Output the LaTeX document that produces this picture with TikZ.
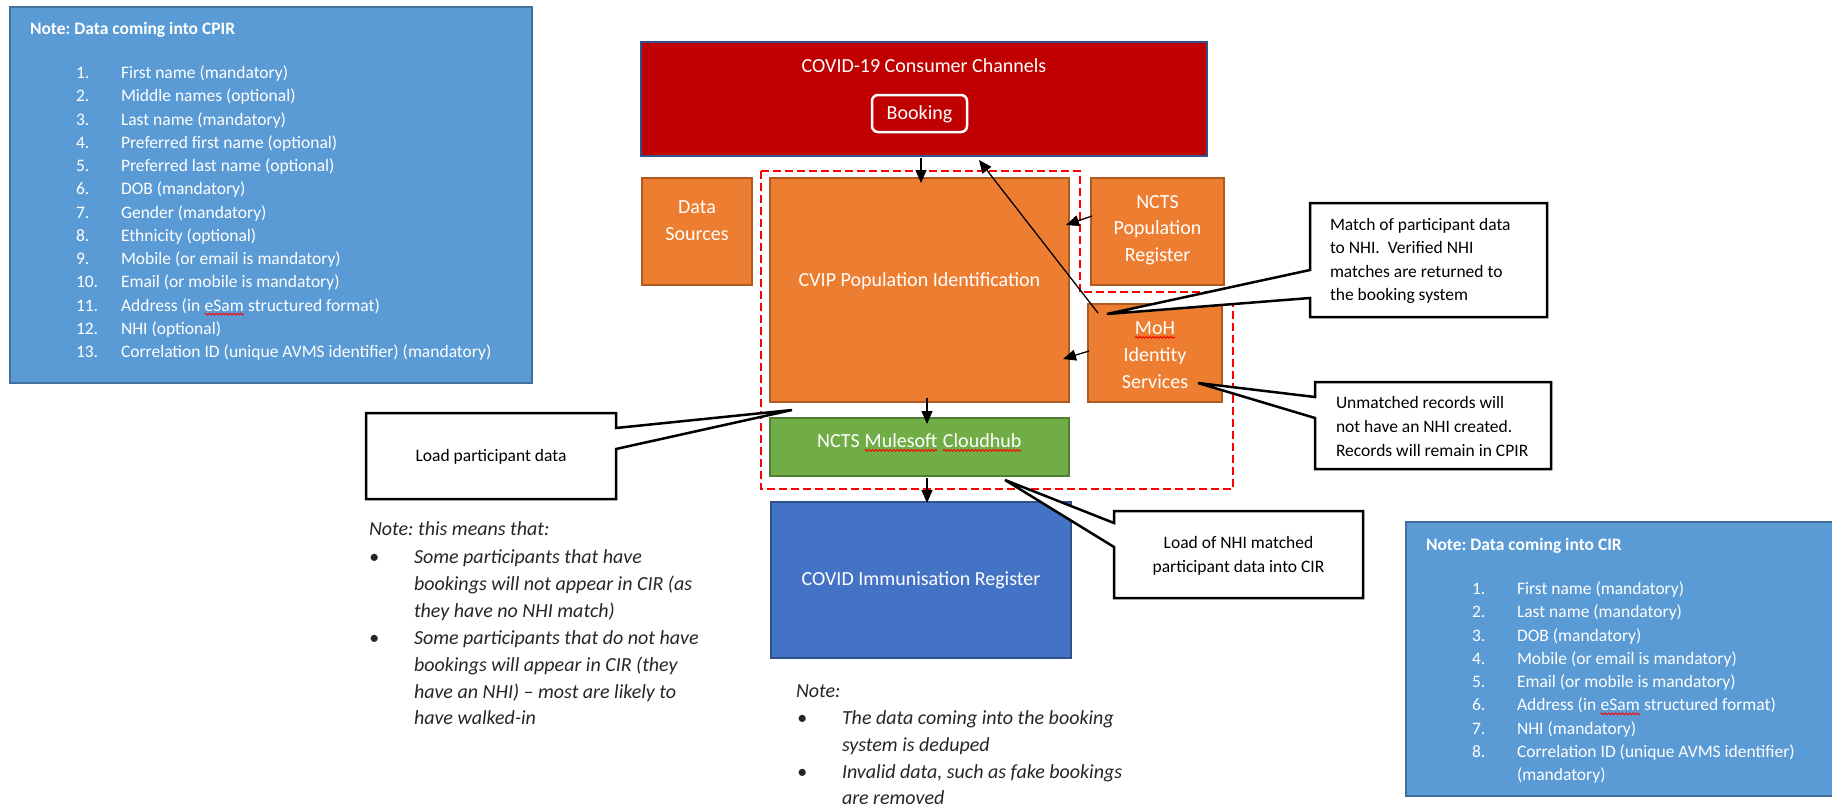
\documentclass[tikz,border=0pt]{standalone}
\usepackage{fontspec}
\setmainfont{Carlito}
\frenchspacing
\usetikzlibrary{arrows.meta,calc,decorations.pathmorphing}
\definecolor{noteblue}{HTML}{5B9BD5}
\definecolor{notebord}{HTML}{41719C}
\definecolor{redfill}{HTML}{C00000}
\definecolor{darkblue}{HTML}{2F528F}
\definecolor{orangef}{HTML}{ED7D31}
\definecolor{oranged}{HTML}{AE5A21}
\definecolor{greenf}{HTML}{70AD47}
\definecolor{greend}{HTML}{507E32}
\definecolor{cirblue}{HTML}{4472C4}
\definecolor{notetext}{HTML}{262626}
\newcommand\sq[1]{\tikz[baseline=(sqw.base),x=1pt,y=1pt]{\node[inner sep=0pt,outer sep=0pt] (sqw) {#1}; \draw[red,line width=0.9pt,decorate,decoration={snake,amplitude=0.9pt,segment length=3.5pt}] ([yshift=-3pt]sqw.base west) -- ([yshift=-3pt]sqw.base east);}}
\begin{document}
\begin{tikzpicture}[x=1pt,y=-1pt,
  every node/.style={inner sep=0pt,outer sep=0pt},
  tA/.style={font=\fontsize{20}{24}\selectfont,text height=12.8pt,text depth=0pt},
  tB/.style={font=\fontsize{17.5}{21}\selectfont,text height=11.2pt,text depth=0pt},
  tI/.style={font=\fontsize{20}{24}\selectfont\itshape,text height=12.8pt,text depth=0pt,text=notetext},
  wt/.style={text=white},
  notebox/.style={draw=notebord,fill=noteblue,line width=2.5pt},
  redbox/.style={draw=darkblue,fill=redfill,line width=2.5pt},
  bookbox/.style={draw=white,fill=redfill,line width=2.5pt,rounded corners=6pt},
  obox/.style={draw=oranged,fill=orangef,line width=2pt},
  gbox/.style={draw=greend,fill=greenf,line width=2pt},
  cbox/.style={draw=darkblue,fill=cirblue,line width=2pt},
  arr/.style={line width=1.3pt,-{Triangle[length=13pt,width=11pt]}},
  callout/.style={draw=black,fill=white,line width=2.5pt,line join=miter},
  redash/.style={draw=red,line width=2.5pt,dash pattern=on 8pt off 4pt}
]
\useasboundingbox (0,0) rectangle (1832,806);
\fill[white] (0,0) rectangle (1832,806);

% note boxes
\node[notebox,minimum width=522pt,minimum height=376pt] (notel) at (271,195) {};
\node[notebox,minimum width=427pt,minimum height=274pt] (noter) at (1619.5,659) {};

% main boxes
\node[redbox,minimum width=566pt,minimum height=114pt] (red) at (924,99) {};
\node[bookbox,minimum width=95pt,minimum height=37pt] (book) at (919.5,113.5) {};
\node[obox,minimum width=110pt,minimum height=107pt] (ds) at (697,231.5) {};
\node[obox,minimum width=299pt,minimum height=224pt] (cvip) at (919.5,290) {};
\node[obox,minimum width=133pt,minimum height=107pt] (ncts) at (1157.5,231.5) {};
\node[obox,minimum width=134pt,minimum height=98pt] (moh) at (1155,353) {};
\node[gbox,minimum width=299pt,minimum height=58pt] (green) at (919.5,447) {};
\node[cbox,minimum width=300pt,minimum height=156pt] (cir) at (921,580) {};

% dashed boundary
\draw[redash] (761,171) -- (1080,171) -- (1080,292) -- (1233,292) -- (1233,489) -- (761,489) -- cycle;

% arrows
\draw[arr] ($(red.south west)+(280,2)$) -- ($(cvip.north)+(1.5,5)$);
\draw[arr] ($(ncts.north west)+(1,38)$) -- ($(cvip.north east)+(-3,47)$);
\draw[arr] ($(moh.north west)+(1,47)$) -- ($(cvip.north east)+(-6,181)$);
\draw[arr] ($(moh.north west)+(10,9)$) -- ($(red.south west)+(338,4)$);
\draw[arr] ($(cvip.south)+(7.5,-4)$) -- ($(green.north)+(7.5,6)$);
\draw[arr] ($(green.south)+(7.5,2)$) -- ($(cir.north)+(6,1)$);

% callouts
\coordinate (tip1) at (1107,314);
\coordinate (tip2) at (1198,383);
\coordinate (tip3) at (792,410);
\coordinate (tip4) at (1005,480);
\draw[callout] (1310,203) -- (1547,203) -- (1547,317) -- (1310,317) -- (1310,298) -- (tip1) -- (1310,270) -- cycle;
\draw[callout] (1315,382) -- (1551,382) -- (1551,469) -- (1315,469) -- (1315,418) -- (tip2) -- (1315,397) -- cycle;
\draw[callout] (366,413) -- (616,413) -- (616,428) -- (tip3) -- (616,449) -- (616,499) -- (366,499) -- cycle;
\draw[callout] (1114,511) -- (1363,511) -- (1363,598) -- (1114,598) -- (1114,547) -- (tip4) -- (1114,523) -- cycle;

% box texts
\node[tA,wt] (tred) at (924,66) {COVID-19 Consumer Channels};
\node[tA,wt] (tbook) at (919.5,113) {Booking};
\node[tA,wt] (tds1) at (697,207) {Data};
\node[tA,wt] (tds2) at (697,234) {Sources};
\node[tA,wt] (tcvip) at (919.5,280) {CVIP Population Identification};
\node[tA,wt] (tn1) at (1157.5,202) {NCTS};
\node[tA,wt] (tn2) at (1157.5,228.5) {Population};
\node[tA,wt] (tn3) at (1157.5,255) {Register};
\node[tA,wt] (tm1) at (1155,328) {\sq{MoH}};
\node[tA,wt] (tm2) at (1155,355) {Identity};
\node[tA,wt] (tm3) at (1155,382) {Services};
\node[tA,wt] (tgreen) at (919.5,441) {NCTS \sq{Mulesoft} \sq{Cloudhub}};
\node[tA,wt] (tcir) at (921,579) {COVID Immunisation Register};

% callout texts
\node[tB,anchor=west] (c1a) at (1330,225) {Match of participant data};
\node[tB,anchor=west] (c1b) at (1330,248) {to NHI.\ \ Verified NHI};
\node[tB,anchor=west] (c1c) at (1330,272) {matches are returned to};
\node[tB,anchor=west] (c1d) at (1330,295) {the booking system};
\node[tB,anchor=west] (c2a) at (1336,403) {Unmatched records will};
\node[tB,anchor=west] (c2b) at (1336,427) {not have an NHI created.};
\node[tB,anchor=west] (c2c) at (1336,451) {Records will remain in CPIR};
\node[tB] (c3) at (491,456) {Load participant data};
\node[tB] (c4a) at (1238.5,543) {Load of NHI matched};
\node[tB] (c4b) at (1238.5,567) {participant data into CIR};

% left note list
\node[tB,wt,anchor=west,font=\fontsize{17.5}{21}\selectfont\bfseries] (ltitle) at (30,29) {Note: Data coming into CPIR};
\foreach \txt [count=\i] in {{First name (mandatory)},{Middle names (optional)},{Last name (mandatory)},{Preferred first name (optional)},{Preferred last name (optional)},{DOB (mandatory)},{Gender (mandatory)},{Ethnicity (optional)},{Mobile (or email is mandatory)},{Email (or mobile is mandatory)},{Address (in \sq{eSam} structured format)},{NHI (optional)},{Correlation ID (unique AVMS identifier) (mandatory)}} {
  \node[tB,wt,anchor=west] (ln\i) at (76,{73+23.25*(\i-1)}) {\i.};
  \node[tB,wt,anchor=west] (lt\i) at (121,{73+23.25*(\i-1)}) {\txt};
}

% right note list
\node[tB,wt,anchor=west,font=\fontsize{17.5}{21}\selectfont\bfseries] (rtitle) at (1426,545) {Note: Data coming into CIR};
\foreach \txt [count=\i] in {{First name (mandatory)},{Last name (mandatory)},{DOB (mandatory)},{Mobile (or email is mandatory)},{Email (or mobile is mandatory)},{Address (in \sq{eSam} structured format)},{NHI (mandatory)},{Correlation ID (unique AVMS identifier)}} {
  \node[tB,wt,anchor=west] (rn\i) at (1472,{589+23.25*(\i-1)}) {\i.};
  \node[tB,wt,anchor=west] (rt\i) at (1517,{589+23.25*(\i-1)}) {\txt};
}
\node[tB,wt,anchor=west] (rt9) at (1517,775) {(mandatory)};

% italic notes left
\node[tI,anchor=west] (na0) at (369,529) {Note: this means that:};
\node[tI,anchor=west] (nab1) at (369,557) {\textbullet};
\node[tI,anchor=west] (na1) at (414,557) {Some participants that have};
\node[tI,anchor=west] (na2) at (414,584) {bookings will not appear in CIR (as};
\node[tI,anchor=west] (na3) at (414,611) {they have no NHI match)};
\node[tI,anchor=west] (nab2) at (369,638) {\textbullet};
\node[tI,anchor=west] (na4) at (414,638) {Some participants that do not have};
\node[tI,anchor=west] (na5) at (414,665) {bookings will appear in CIR (they};
\node[tI,anchor=west] (na6) at (414,692) {have an NHI) -- most are likely to};
\node[tI,anchor=west] (na7) at (414,718) {have walked-in};

% italic notes under CIR
\node[tI,anchor=west] (nb0) at (796,691) {Note:};
\node[tI,anchor=west] (nbb1) at (797,718) {\textbullet};
\node[tI,anchor=west] (nb1) at (842,718) {The data coming into the booking};
\node[tI,anchor=west] (nb2) at (842,745) {system is deduped};
\node[tI,anchor=west] (nbb2) at (797,772) {\textbullet};
\node[tI,anchor=west] (nb3) at (842,772) {Invalid data, such as fake bookings};
\node[tI,anchor=west] (nb4) at (842,798) {are removed};
\end{tikzpicture}
\end{document}
